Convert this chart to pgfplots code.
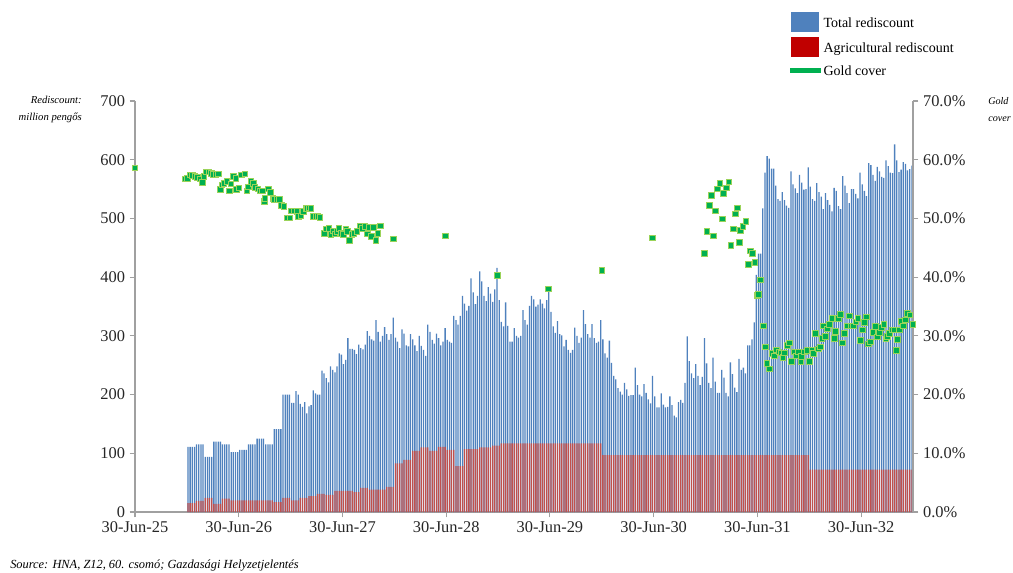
\documentclass[border=0pt]{standalone}
\usepackage{pgfplots}
\pgfplotsset{compat=1.18}
\usepackage{pgfplotstable}
\usepackage{fontspec}
\setmainfont{Liberation Serif}

\definecolor{tblue}{HTML}{4F81BD}
\definecolor{tred}{HTML}{C0504D}
\definecolor{lred}{HTML}{C00000}
\definecolor{gfill}{HTML}{00B050}
\definecolor{gedge}{HTML}{9BD35A}
\definecolor{axgray}{HTML}{A0A0A0}

% weekly statements, Jan 1926 - Dec 1932 (4 per month): total, agricultural (million pengo)
\pgfplotstableread[row sep=\\]{
t a\\
111 15\\ 111 15\\ 111 15\\ 111 15\\
115 19\\ 115 19\\ 115 19\\ 115 19\\
94 24\\ 94 24\\ 94 24\\ 94 24\\
120 14\\ 120 14\\ 120 14\\ 120 14\\
115 23\\ 115 23\\ 115 23\\ 115 23\\
102 20\\ 102 20\\ 102 20\\ 102 20\\
106 20\\ 106 20\\ 106 20\\ 106 20\\
115 20\\ 115 20\\ 115 20\\ 115 20\\
125 20\\ 125 20\\ 125 20\\ 125 20\\
115 20\\ 115 20\\ 115 20\\ 115 20\\
141 17\\ 141 17\\ 141 17\\ 141 17\\
200 24\\ 200 24\\ 200 24\\ 200 24\\
186 20\\ 186 20\\ 206 20\\ 200 20\\
184 24\\ 179 24\\ 187 24\\ 168 24\\
180 27\\ 182 27\\ 207 27\\ 202 27\\
200 31\\ 200 31\\ 241 31\\ 236 31\\
228 29\\ 221 29\\ 248 29\\ 242 29\\
238 36\\ 248 36\\ 270 36\\ 268 36\\
252 36\\ 259 36\\ 296 36\\ 278 36\\
278 36\\ 276 34\\ 269 34\\ 285 34\\
279 41\\ 277 41\\ 285 41\\ 308 41\\
300 38\\ 294 38\\ 292 38\\ 327 38\\
307 38\\ 290 38\\ 300 38\\ 315 38\\
303 43\\ 293 43\\ 303 43\\ 331 43\\
297 83\\ 290 83\\ 279 83\\ 311 83\\
304 89\\ 284 89\\ 282 89\\ 303 89\\
294 104\\ 284 104\\ 274 104\\ 300 104\\
283 110\\ 276 110\\ 266 110\\ 319 110\\
307 104\\ 293 104\\ 287 104\\ 304 104\\
296 111\\ 284 111\\ 290 111\\ 313 111\\
293 106\\ 290 106\\ 288 106\\ 334 106\\
327 78\\ 319 78\\ 334 78\\ 368 78\\
355 107\\ 343 107\\ 351 107\\ 398 107\\
374 107\\ 354 107\\ 368 107\\ 410 110\\
393 110\\ 368 110\\ 359 110\\ 383 110\\
372 110\\ 358 113\\ 379 113\\ 416 113\\
361 113\\ 324 117\\ 316 117\\ 357 117\\
317 117\\ 290 117\\ 290 117\\ 313 117\\
300 117\\ 297 117\\ 300 117\\ 344 117\\
327 117\\ 319 117\\ 351 117\\ 368 117\\
362 117\\ 350 117\\ 353 117\\ 362 117\\
355 117\\ 347 117\\ 361 117\\ 379 117\\
341 117\\ 316 117\\ 305 117\\ 325 117\\
303 117\\ 301 117\\ 282 117\\ 293 117\\
276 117\\ 271 117\\ 276 117\\ 314 117\\
300 117\\ 288 117\\ 297 117\\ 344 117\\
320 117\\ 303 117\\ 297 117\\ 320 117\\
296 117\\ 288 117\\ 290 117\\ 327 117\\
294 97\\ 270 97\\ 263 97\\ 292 97\\
254 97\\ 232 97\\ 226 97\\ 211 97\\
205 97\\ 200 97\\ 220 97\\ 209 97\\
198 97\\ 199 97\\ 199 97\\ 246 97\\
216 97\\ 200 97\\ 197 97\\ 218 97\\
203 97\\ 192 97\\ 185 97\\ 232 97\\
197 97\\ 178 97\\ 178 97\\ 202 97\\
183 97\\ 178 97\\ 179 97\\ 197 97\\
182 97\\ 164 97\\ 161 97\\ 187 97\\
191 97\\ 186 97\\ 220 97\\ 299 97\\
257 97\\ 236 97\\ 228 97\\ 252 97\\
232 97\\ 216 97\\ 230 97\\ 296 97\\
253 97\\ 220 97\\ 211 97\\ 263 97\\
222 97\\ 203 97\\ 203 97\\ 242 97\\
229 97\\ 203 97\\ 197 97\\ 255 97\\
235 97\\ 212 97\\ 204 97\\ 261 97\\
242 97\\ 246 97\\ 236 97\\ 284 97\\
284 97\\ 294 97\\ 323 97\\ 404 97\\
440 97\\ 440 97\\ 517 97\\ 578 97\\
606 97\\ 602 97\\ 585 97\\ 585 97\\
556 97\\ 533 97\\ 530 97\\ 545 97\\
531 97\\ 522 97\\ 518 97\\ 580 97\\
558 97\\ 551 97\\ 543 97\\ 574 97\\
561 97\\ 549 97\\ 550 97\\ 587 97\\
554 72\\ 533 72\\ 530 72\\ 560 72\\
545 72\\ 537 72\\ 516 72\\ 543 72\\
531 72\\ 523 72\\ 512 72\\ 552 72\\
547 72\\ 521 72\\ 516 72\\ 572 72\\
556 72\\ 543 72\\ 526 72\\ 550 72\\
550 72\\ 542 72\\ 534 72\\ 578 72\\
558 72\\ 547 72\\ 538 72\\ 594 72\\
591 72\\ 574 72\\ 564 72\\ 588 72\\
580 72\\ 571 72\\ 569 72\\ 599 72\\
589 72\\ 578 72\\ 577 72\\ 626 72\\
599 72\\ 579 72\\ 583 72\\ 596 72\\
593 72\\ 582 72\\ 584 72\\ 590 72\\
}\rediscount

\pgfplotsset{
  chartbase/.style={
    at={(101.25pt,-384pt)}, anchor=south west,
    scale only axis, width=583.5pt, height=308.25pt,
    xmin=0, xmax=7.5,
    enlargelimits=false,
    axis line style={draw=axgray, line width=0.8pt},
    tick style={draw=axgray, line width=0.8pt},
    major tick length=4pt,
    tick align=outside,
    /pgf/number format/assume math mode=true,
    tick label style={font=\fontsize{12.3}{14}\selectfont, text=black!85},
  },
}

\begin{document}
\begin{tikzpicture}
\useasboundingbox (0pt,0pt) rectangle (759.75pt,-429pt);

\begin{axis}[
  chartbase,
  ymin=0, ymax=700,
  axis x line*=bottom, axis y line*=left,
  xtick={0,1,2,3,4,5,6,7},
  xticklabels={30-Jun-25,30-Jun-26,30-Jun-27,30-Jun-28,30-Jun-29,30-Jun-30,30-Jun-31,30-Jun-32},
  ytick={0,100,...,700},
  legend style={at={(0.842,1.218)}, anchor=north west, draw=none, fill=none,
    inner sep=0pt, row sep=4pt, font=\fontsize{10.5}{12}\selectfont,
    cells={anchor=west}},
]
\addplot[ybar, bar width=0.0125, bar shift=0pt, fill=tblue, draw=none,
  legend image code/.code={\fill[tblue] (0pt,-6.25pt) rectangle (21pt,8.75pt);}]
  table[x expr={0.5+(\coordindex+0.5)/48}, y=t] {\rediscount};
\addlegendentry{Total rediscount}
\addplot[ybar, bar width=0.0125, bar shift=0pt, fill=tred, draw=none,
  legend image code/.code={\fill[lred] (0pt,-6.25pt) rectangle (21pt,8.75pt);}]
  table[x expr={0.5+(\coordindex+0.5)/48}, y=a] {\rediscount};
\addlegendentry{Agricultural rediscount}
\addlegendimage{legend image code/.code={\fill[gfill] (0pt,-1pt) rectangle (22.5pt,2.5pt);}}
\addlegendentry{Gold cover}
\end{axis}

\begin{axis}[
  chartbase,
  ymin=0, ymax=70,
  axis x line=none, axis y line*=right,
  ytick={0,10,...,70},
  yticklabel={\pgfmathprintnumber[fixed,fixed zerofill,precision=1]{\tick}\%},
  clip=false,
]
\addplot[only marks, mark=square*, mark size=2.1pt,
  mark options={fill=gfill, draw=gedge, line width=0.6pt}]
coordinates {
(0,58.6)
(0.482,56.7)(0.505,56.8)(0.530,57.4)(0.553,57.3)(0.579,57.2)(0.601,57.0)(0.627,56.7)
(0.649,56.1)(0.665,57.2)(0.685,57.9)(0.711,57.9)(0.736,57.7)(0.755,57.5)(0.781,57.5)
(0.803,57.6)(0.826,54.9)(0.839,55.7)(0.858,56.0)(0.884,56.3)(0.910,54.7)(0.923,55.9)
(0.948,57.2)(0.974,56.8)(0.980,54.9)(1.003,55.2)(1.025,57.4)(1.058,57.6)(1.077,54.7)
(1.096,55.4)(1.119,56.3)(1.141,56.0)(1.157,55.3)(1.183,55.0)(1.205,54.7)(1.228,54.7)
(1.247,52.9)(1.254,53.4)(1.286,55.0)(1.308,54.4)(1.328,53.4)(1.343,53.2)(1.366,53.2)
(1.392,53.2)(1.414,52.2)(1.437,52.0)(1.469,50.1)(1.495,50.1)(1.508,51.3)(1.533,51.3)
(1.559,51.2)(1.578,50.3)(1.598,50.4)(1.623,51.2)(1.646,51.7)(1.662,51.7)(1.678,51.8)
(1.697,51.7)(1.720,50.3)(1.742,50.3)(1.762,50.3)(1.784,50.2)(1.823,47.5)(1.839,48.2)
(1.871,48.3)(1.890,47.3)(1.909,47.9)(1.926,47.4)(1.945,47.8)(1.967,48.3)(1.987,47.5)
(2.009,47.3)(2.032,48.2)(2.047,47.8)(2.067,46.3)(2.090,47.3)(2.112,47.5)(2.138,47.8)
(2.170,48.7)(2.192,48.3)(2.218,48.6)(2.240,47.4)(2.259,48.5)(2.279,46.9)(2.298,48.5)
(2.321,46.3)(2.343,47.5)(2.363,48.7)(2.491,46.5)
(2.990,47.0)(3.494,40.3)(3.986,38.0)(4.500,41.1)(4.985,46.7)
(5.490,44.0)(5.513,47.8)(5.535,52.2)(5.554,53.9)(5.577,47.0)(5.596,51.3)(5.615,55.0)
(5.638,56.0)(5.660,49.9)(5.670,54.3)(5.702,55.2)(5.725,56.2)(5.744,45.4)(5.767,48.2)
(5.789,50.8)(5.808,51.8)(5.828,45.9)(5.837,48.0)(5.860,48.6)(5.889,49.5)(5.911,42.2)
(5.931,44.5)(5.953,44.0)(5.976,42.5)(5.995,36.9)(6.008,37.1)(6.027,39.5)(6.059,31.7)
(6.078,28.1)(6.091,25.3)(6.117,24.4)(6.140,27.0)(6.162,26.6)(6.181,27.6)(6.207,27.3)
(6.227,27.1)(6.246,26.3)(6.258,27.1)(6.287,28.4)(6.310,28.8)(6.329,25.7)(6.355,27.3)
(6.377,26.6)(6.397,27.3)(6.419,25.7)(6.426,26.5)(6.451,27.3)(6.477,27.5)(6.503,25.7)
(6.525,27.5)(6.541,27.0)(6.561,30.4)(6.586,27.8)(6.606,28.1)(6.622,29.6)(6.638,31.7)
(6.657,29.9)(6.676,31.2)(6.692,32.0)(6.718,33.0)(6.740,29.6)(6.753,30.8)(6.779,33.0)
(6.798,33.7)(6.821,28.8)(6.840,30.4)(6.863,31.7)(6.885,33.4)(6.904,31.7)(6.927,31.7)
(6.950,32.4)(6.969,33.0)(6.991,29.2)(7.011,31.0)(7.030,32.3)(7.049,33.2)(7.068,28.6)
(7.091,29.0)(7.113,30.6)(7.136,31.6)(7.158,29.8)(7.178,30.6)(7.197,31.4)(7.220,32.0)
(7.239,29.5)(7.255,29.9)(7.274,30.4)(7.297,31.0)(7.316,31.0)(7.338,27.5)(7.348,29.4)
(7.370,31.0)(7.390,32.5)(7.409,31.7)(7.428,32.7)(7.448,33.8)(7.470,33.6)(7.499,32.0)
};
\end{axis}

\node[anchor=east, align=right, inner sep=0pt, font=\itshape\fontsize{8}{13}\selectfont]
  at (61.5pt,-82pt) {Rediscount:\\million pengős};
\node[anchor=west, align=left, inner sep=0pt, font=\itshape\fontsize{7.6}{13}\selectfont]
  at (741pt,-82pt) {Gold\\cover};
\node[anchor=base west, inner sep=0pt, font=\itshape\fontsize{9.3}{10}\selectfont]
  at (7.5pt,-426pt) {Source: HNA, Z12, 60. csomó; Gazdasági Helyzetjelentés};
\end{tikzpicture}
\end{document}
